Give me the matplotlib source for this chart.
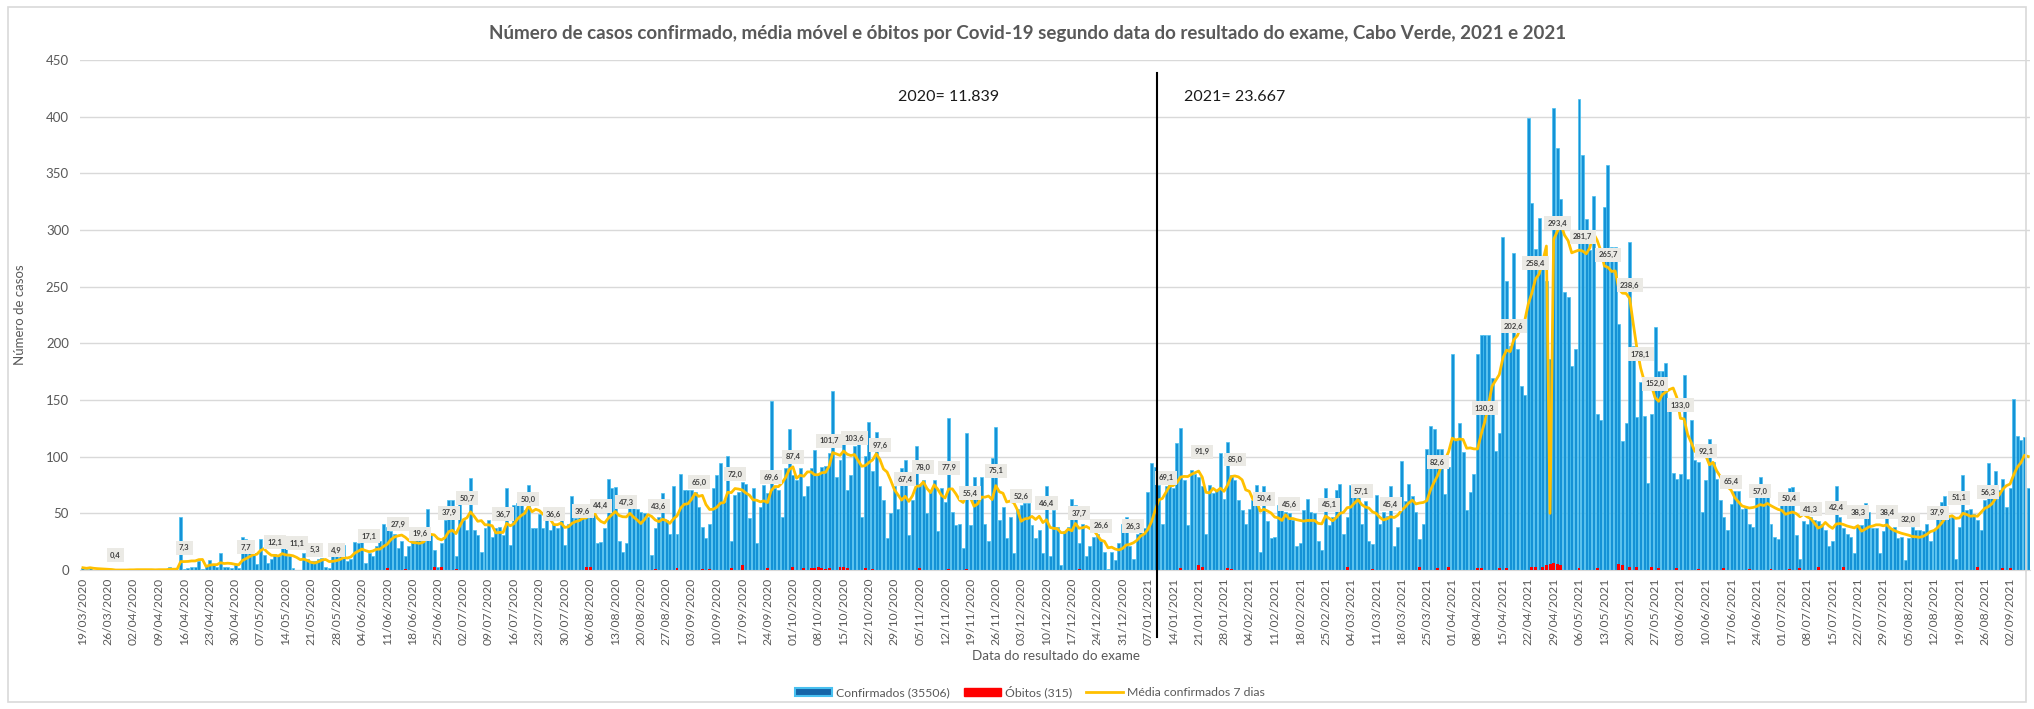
import numpy as np
import pandas as pd
import matplotlib
matplotlib.use("Agg")
import matplotlib.pyplot as plt
from matplotlib.patches import Patch, Rectangle
from matplotlib.lines import Line2D

plt.rcParams['font.family'] = ['Lato', 'DejaVu Sans']

# Casos confirmados por dia (a partir de 19/03/2020)
casos_2020 = [
    2, 1, 3, 0, 0, 0, 0, 0, 0, 0, 0, 0, 0, 1, 0, 1, 0, 0, 0, 0,
    0, 1, 1, 0, 3, 0, 0, 47, 1, 2, 3, 3, 8, 1, 4, 9, 5, 3, 15, 3,
    3, 2, 4, 2, 29, 27, 15, 15, 5, 27, 13, 6, 10, 14, 12, 19, 19, 12, 2, 0,
    0, 15, 10, 8, 8, 10, 11,
    3, 2, 12, 12, 15, 22, 8, 10, 25, 24, 25, 6, 15, 12, 21, 26, 41, 38, 34, 32,
    19, 26, 12, 21, 26, 32, 29, 26, 54, 32, 18, 3, 24, 44, 62, 62, 12, 63, 44, 35,
    81, 35, 31, 16, 37, 44, 29, 37, 38, 31, 72, 22, 57, 59, 57, 53, 75, 37, 37, 49,
    37, 44, 35, 41, 37, 47, 22, 41,
    65, 46, 47, 51, 50, 53, 50, 24, 25, 37, 80, 72, 73, 26, 16, 24, 59, 57, 54, 51,
    50, 47, 13, 37, 47, 68, 44, 32, 74, 32, 85, 71, 71, 71, 69, 56, 38, 28, 41, 72,
    84, 94, 60, 101, 26, 66, 69, 78, 76, 46, 72, 24, 56, 75, 68, 149, 72, 71, 47, 90,
    124, 84, 79, 90, 65, 74, 90,
    106, 85, 91, 92, 103, 158, 82, 97, 112, 71, 84, 109, 121, 47, 101, 131, 87, 122, 74, 62,
    28, 50, 74, 54, 90, 97, 31, 62, 109, 76, 79, 50, 71, 79, 34, 72, 60, 134, 51, 40,
    41, 19, 121, 40, 82, 65, 82, 41, 26, 99, 126, 44, 56, 28, 47, 15, 54, 57, 59, 59,
    40, 28, 35, 15, 74, 12, 53, 38,
    4, 34, 38, 63, 57, 24, 41, 12, 21, 29, 32, 26, 16, 1, 16, 9, 24, 41,
]

casos_2021 = [
    47, 21, 10, 32, 35, 37, 69, 94, 91, 75, 41, 74, 75, 72, 112, 125, 79, 40, 88, 85,
    82, 74, 32, 75, 68, 71, 103, 63, 113, 84, 79, 62, 53, 41, 54, 62, 75, 16, 74, 43,
    28, 29, 57, 59, 51, 50, 44, 21, 24, 53,
    63, 51, 50, 26, 18, 72, 40, 47, 71, 76, 32, 47, 75, 65, 68, 41, 61, 26, 23, 66,
    41, 51, 48, 74, 21, 38, 96, 61, 76, 65, 51, 27, 41, 107, 127, 124, 107, 107, 67, 91,
    191, 116, 130, 104, 53, 69, 85, 191, 207, 207, 207, 169, 105, 121, 294, 255, 198, 280, 195, 162,
    154, 399, 324, 283, 311, 275, 255,
    186, 408, 372, 327, 245, 241, 180, 195, 416, 366, 310, 282, 330, 138, 132, 320, 357, 285, 285, 217,
    114, 130, 289, 198, 135, 166, 136, 77, 138, 214, 176, 176, 183, 151, 86, 80, 85, 172, 80, 132,
    97, 95, 51, 79, 116, 95, 80, 62, 47, 35, 58, 70, 70, 54, 55, 41, 38, 64, 82, 64,
    67, 41, 29, 27, 58, 58, 72, 73,
    31, 10, 43, 41, 47, 44, 43, 41, 35, 21, 26, 74, 47, 37, 32, 29, 15, 40, 40, 59,
    51, 37, 37, 15, 34, 46, 37, 38, 28, 29, 9, 28, 38, 35, 35, 34, 41, 26, 35, 56,
    60, 65, 46, 47, 10, 38, 84, 53, 54, 49, 44, 35, 62, 94, 71, 87, 71, 80, 56, 72,
    151, 118, 115, 117, 72,
]

# Óbitos (apenas dias com registo)
obitos_datas = [
    "24/03/2020", "11/06/2020", "16/06/2020", "24/06/2020", "26/06/2020", "30/06/2020",
    "05/08/2020", "06/08/2020", "24/08/2020", "30/08/2020", "06/09/2020", "08/09/2020",
    "14/09/2020", "17/09/2020", "24/09/2020", "01/10/2020", "04/10/2020", "06/10/2020",
    "07/10/2020", "08/10/2020", "09/10/2020", "10/10/2020", "11/10/2020", "14/10/2020",
    "15/10/2020", "16/10/2020", "21/10/2020", "23/10/2020", "05/11/2020", "13/11/2020",
    "18/11/2020", "19/12/2020", "16/01/2021", "21/01/2021", "22/01/2021", "29/01/2021",
    "30/01/2021", "03/03/2021", "10/03/2021", "23/03/2021", "28/03/2021", "31/03/2021",
    "08/04/2021", "09/04/2021", "14/04/2021", "16/04/2021", "23/04/2021", "24/04/2021",
    "26/04/2021", "27/04/2021", "28/04/2021", "29/04/2021", "30/04/2021", "01/05/2021",
    "06/05/2021", "11/05/2021", "17/05/2021", "18/05/2021", "20/05/2021", "22/05/2021",
    "26/05/2021", "28/05/2021", "02/06/2021", "08/06/2021", "15/06/2021", "22/06/2021",
    "28/06/2021", "03/07/2021", "06/07/2021", "11/07/2021", "18/07/2021", "24/08/2021",
    "31/08/2021", "02/09/2021",
]
obitos_valores = [
    1, 2, 1, 3, 3, 1,
    3, 3, 1, 2, 1, 1,
    2, 4, 2, 3, 2, 2,
    2, 3, 2, 1, 2, 3,
    3, 2, 2, 1, 2, 1,
    1, 1, 2, 4, 3, 2,
    1, 3, 1, 3, 2, 3,
    2, 2, 2, 2, 3, 3,
    3, 4, 5, 6, 5, 4,
    2, 2, 5, 4, 3, 3,
    3, 2, 2, 1, 2, 1,
    1, 1, 2, 3, 3, 3,
    2, 2,
]

# Rótulos da média móvel
rotulos_datas = [
    "28/03/2020", "16/04/2020", "03/05/2020", "11/05/2020", "17/05/2020", "22/05/2020",
    "28/05/2020", "06/06/2020", "14/06/2020", "20/06/2020", "28/06/2020", "03/07/2020",
    "13/07/2020", "20/07/2020", "27/07/2020", "04/08/2020", "09/08/2020", "16/08/2020",
    "25/08/2020", "05/09/2020", "15/09/2020", "25/09/2020", "01/10/2020", "11/10/2020",
    "18/10/2020", "25/10/2020", "01/11/2020", "06/11/2020", "13/11/2020", "19/11/2020",
    "26/11/2020", "03/12/2020", "10/12/2020", "19/12/2020", "25/12/2020", "03/01/2021",
    "12/01/2021", "22/01/2021", "31/01/2021", "08/02/2021", "15/02/2021", "26/02/2021",
    "07/03/2021", "15/03/2021", "28/03/2021", "10/04/2021", "18/04/2021", "24/04/2021",
    "30/04/2021", "07/05/2021", "14/05/2021", "20/05/2021", "23/05/2021", "27/05/2021",
    "03/06/2021", "10/06/2021", "17/06/2021", "25/06/2021", "03/07/2021", "09/07/2021",
    "16/07/2021", "22/07/2021", "30/07/2021", "05/08/2021", "13/08/2021", "19/08/2021",
    "27/08/2021",
]
rotulos_valores = [
    0.4, 7.3, 7.7, 12.1, 11.1, 5.3,
    4.9, 17.1, 27.9, 19.6, 37.9, 50.7,
    36.7, 50.0, 36.6, 39.6, 44.4, 47.3,
    43.6, 65.0, 72.0, 69.6, 87.4, 101.7,
    103.6, 97.6, 67.4, 78.0, 77.9, 55.4,
    75.1, 52.6, 46.4, 37.7, 26.6, 26.3,
    69.1, 91.9, 85.0, 50.4, 45.6, 45.1,
    57.1, 45.4, 82.6, 130.3, 202.6, 258.4,
    293.4, 281.7, 265.7, 238.6, 178.1, 152.0,
    133.0, 92.1, 65.4, 57.0, 50.4, 41.3,
    42.4, 38.3, 38.4, 32.0, 37.9, 51.1,
    56.3,
]

# valor anómalo da média no gráfico original
media_falha_data = "28/04/2021"
media_falha_valor = 50.0

separador = "10/01/2021"
total_2020 = "2020= 11.839"
total_2021 = "2021= 23.667"

# ---------------------------------------------------------------
confirmados = casos_2020 + casos_2021
datas = pd.date_range("2020-03-19", periods=len(confirmados), freq="D")
serie = pd.Series(confirmados, index=datas, dtype=float)
media = serie.rolling(7, min_periods=1).mean()
media[pd.to_datetime(media_falha_data, dayfirst=True)] = media_falha_valor

obitos = pd.Series(0.0, index=datas)
for d, v in zip(obitos_datas, obitos_valores):
    obitos[pd.to_datetime(d, dayfirst=True)] = v

def pos(data_str):
    return datas.get_loc(pd.to_datetime(data_str, dayfirst=True))

x = np.arange(len(datas))
cinza = "#595959"

fig = plt.figure(figsize=(20.34, 7.09), dpi=100)
fig.patches.append(Rectangle((0.004, 0.01), 0.992, 0.98, transform=fig.transFigure,
                             fill=False, edgecolor="#d9d9d9", lw=1.2))
ax = fig.add_axes([80 / 2034, 1 - 570 / 709, 1950 / 2034, 510 / 709])

ax.bar(x, serie.values, width=0.82, color="#1592d6", edgecolor="#48c0f0", linewidth=0.5, zorder=2)
ax.bar(x, obitos.values, width=0.82, color="#ff0000", linewidth=0, zorder=3)
ax.plot(x, media.values, color="#ffc000", lw=2, zorder=4)

for d, v in zip(rotulos_datas, rotulos_valores):
    txt = f"{v:.1f}".replace(".", ",")
    ax.text(pos(d), v + 12.5, txt, ha="center", va="center", fontsize=5.5, color="#404040",
            fontweight="bold", zorder=6,
            bbox=dict(boxstyle="square,pad=0.45", fc="#ebeae5", ec="none"))

xs = pos(separador) - 0.5
ax.plot([xs, xs], [-0.131, 0.975], transform=ax.get_xaxis_transform(), color="black",
        lw=1.5, clip_on=False, zorder=7)
ax.text(pos("13/11/2020"), 417, total_2020, ha="center", va="center", fontsize=11.5, color="#1a1a1a")
ax.text(pos("31/01/2021"), 417, total_2021, ha="center", va="center", fontsize=11.5, color="#1a1a1a")

ax.set_ylim(0, 450)
ax.set_xlim(-0.8, 537.5)
ax.set_yticks(np.arange(0, 451, 50))
ax.yaxis.grid(True, color="#d9d9d9", lw=1)
ax.set_axisbelow(True)
tick_pos = x[::7]
ax.set_xticks(tick_pos)
ax.set_xticklabels([datas[i].strftime("%d/%m/%Y") for i in tick_pos], rotation=90)
ax.tick_params(axis="x", length=0, labelsize=8.7, labelcolor=cinza, pad=5.5)
ax.tick_params(axis="y", length=0, labelsize=9.5, labelcolor=cinza, pad=8)
for s in ["top", "right", "left"]:
    ax.spines[s].set_visible(False)
ax.spines["bottom"].set_color("#d9d9d9")

ax.set_ylabel("Número de casos", fontsize=9.5, color=cinza, labelpad=14)
fig.text(1056 / 2034, 1 - 656 / 709, "Data do resultado do exame", ha="center", va="center",
         fontsize=9.7, color=cinza)
fig.text(1028 / 2034, 1 - 33 / 709,
         "Número de casos confirmado, média móvel e óbitos por Covid-19 segundo data do resultado do exame, Cabo Verde, 2021 e 2021",
         ha="center", va="center", fontsize=13.5, fontweight="bold", color=cinza)

handles = [
    Patch(facecolor="#1565a8", edgecolor="#48c0f0", lw=1.5),
    Patch(facecolor="#ff0000", edgecolor="#ff0000"),
    Line2D([0], [0], color="#ffc000", lw=2),
]
labels = ["Confirmados (35506)", "Óbitos (315)", "Média confirmados 7 dias"]
fig.legend(handles, labels, loc="center", bbox_to_anchor=(1030 / 2034, 1 - 692 / 709), ncol=3,
           frameon=False, fontsize=8.8, labelcolor=cinza, handlelength=3.0, handleheight=0.7,
           columnspacing=1.2, handletextpad=0.3)

fig.savefig("out.png", dpi=100)
